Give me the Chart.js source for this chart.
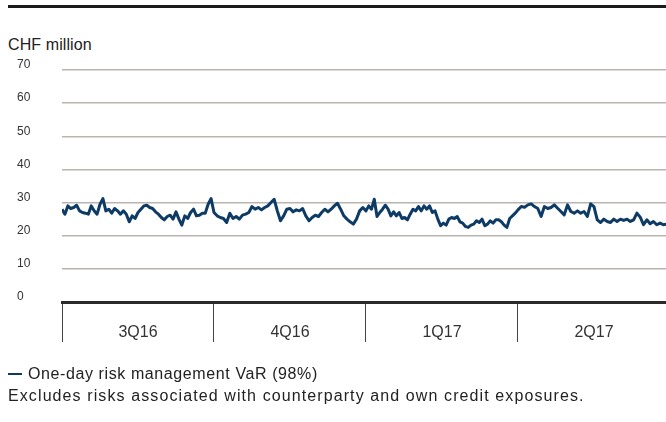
<!DOCTYPE html>
<html><head><meta charset="utf-8">
<script src="https://cdn.jsdelivr.net/npm/chart.js@4.4.0/dist/chart.umd.min.js"></script>
<style>
html,body{margin:0;padding:0;background:#fff;overflow:hidden;}
#wrap{position:relative;width:666px;height:422px;font-family:"Liberation Sans",Arial,sans-serif;color:#222;}
#rule{position:absolute;left:8px;top:5px;width:658px;height:3px;background:#1a1a1a;}
#unit{position:absolute;left:8px;top:36px;font-size:16px;line-height:18px;letter-spacing:0.1px;}
#c{position:absolute;left:0;top:0;}
#legend{position:absolute;left:8px;top:365px;font-size:16px;line-height:18px;letter-spacing:0.6px;}
#legend .sw{display:inline-block;width:14px;height:2px;background:#0d3b66;vertical-align:middle;margin-right:6px;position:relative;top:-1px;}
#note{position:absolute;left:8px;top:387px;font-size:16px;line-height:18px;letter-spacing:1.1px;}
</style></head>
<body>
<div id="wrap">
  <div id="rule"></div>
  <div id="unit">CHF million</div>
  <canvas id="c" width="666" height="422"></canvas>
  <div id="legend"><span class="sw"></span>One-day risk management VaR (98%)</div>
  <div id="note">Excludes risks associated with counterparty and own credit exposures.</div>
</div>
<script>
const quarters = ['3Q16', '4Q16', '1Q17', '2Q17'];
const yTickValues = [0, 10, 20, 30, 40, 50, 60, 70];
const seriesName = 'One-day risk management VaR (98%)';

const var3Q16 = [28.0, 26.5, 29.0, 28.2, 28.5, 29.2, 27.5, 27.0, 26.8, 26.5, 29.0, 27.5, 26.5, 29.5, 31.2, 27.5, 28.0, 26.8, 28.2, 27.5, 26.5, 27.5, 26.5, 24.2, 26.0, 25.2, 27.0, 28.0, 29.0, 29.2, 28.5, 28.2, 27.2, 26.5, 25.5, 24.8, 25.8, 26.2, 25.0, 27.2, 25.0, 23.2, 26.0, 25.2, 27.0, 28.0, 26.0, 26.2, 26.8, 26.8, 29.5, 31.2];
const var4Q16 = [27.0, 26.0, 25.5, 25.2, 24.0, 26.8, 25.2, 25.8, 25.0, 26.2, 26.5, 27.0, 28.8, 28.0, 28.5, 27.8, 28.5, 29.0, 30.0, 31.0, 27.5, 24.5, 26.0, 28.0, 28.2, 27.2, 27.8, 27.5, 28.2, 26.0, 24.5, 25.5, 26.2, 25.8, 27.0, 28.0, 27.2, 28.0, 29.0, 29.8, 28.0, 26.0, 25.0, 24.2, 23.5, 25.0, 27.5, 28.5];
const var1Q17 = [27.5, 29.0, 28.0, 31.0, 25.8, 27.0, 28.0, 29.2, 28.0, 26.0, 27.2, 26.0, 27.0, 25.2, 25.5, 24.8, 26.5, 28.0, 27.5, 28.8, 27.5, 29.0, 28.0, 29.0, 27.0, 27.5, 25.0, 23.0, 23.8, 23.2, 25.0, 25.5, 25.2, 25.8, 24.2, 23.8, 22.8, 22.5, 23.2, 23.5, 24.5, 24.0, 25.0, 23.0, 23.5, 24.5, 23.8, 24.8, 24.8, 24.2, 23.2, 22.5, 25.2, 26.0, 26.8];
const var2Q17 = [27.8, 28.8, 28.6, 29.3, 29.6, 28.8, 28.2, 25.8, 28.8, 28.2, 28.5, 29.3, 28.3, 27.3, 26.3, 29.3, 27.3, 26.8, 27.5, 26.8, 27.3, 25.8, 29.6, 28.8, 24.8, 24.0, 25.0, 24.3, 24.0, 25.0, 24.3, 25.0, 24.6, 25.0, 24.3, 24.8, 26.8, 25.6, 23.3, 24.8, 23.6, 24.3, 23.3, 23.8, 23.3, 23.5];

const quarterSeries = [var3Q16, var4Q16, var1Q17, var2Q17];
const points = [];
quarterSeries.forEach((arr, q) => {
  arr.forEach((v, i) => points.push({ x: q + i / arr.length, y: v }));
});

const FONT = '"Liberation Sans", Arial, sans-serif';

new Chart(document.getElementById('c'), {
  type: 'line',
  data: {
    datasets: [{
      label: seriesName,
      data: points,
      borderColor: '#0d3b66',
      borderWidth: 3,
      borderJoinStyle: 'round',
      pointRadius: 0,
      tension: 0,
      fill: false
    }]
  },
  options: {
    responsive: false,
    animation: false,
    events: [],
    layout: { padding: { left: 17, top: 70, right: 0, bottom: 0 } },
    plugins: { legend: { display: false }, tooltip: { enabled: false } },
    scales: {
      x: {
        type: 'linear',
        min: 0,
        max: 3.974,
        afterBuildTicks: s => { s.ticks = quarters.map((_, i) => ({ value: i })); },
        afterFit: s => { s.height = 120; },
        ticks: {
          autoSkip: false,
          maxRotation: 0,
          callback: v => quarters[v],
          labelOffset: 76,
          padding: -19,
          color: '#333',
          font: { family: FONT, size: 16 }
        },
        grid: {
          drawOnChartArea: false,
          drawTicks: true,
          tickLength: 40,
          tickColor: '#444',
          tickWidth: 1
        },
        border: { display: true, color: '#2a2a2a', width: 3 }
      },
      y: {
        min: 0,
        max: 70,
        afterBuildTicks: s => { s.ticks = yTickValues.map(v => ({ value: v })); },
        afterFit: s => { s.width = 45; },
        ticks: {
          crossAlign: 'far',
          labelOffset: -5,
          padding: 0,
          color: '#333',
          font: { family: FONT, size: 12 }
        },
        grid: {
          drawTicks: false,
          color: ctx => ctx.tick && ctx.tick.value === 0 ? 'rgba(0,0,0,0)' : '#b9b4af',
          lineWidth: 1.5
        },
        border: { display: false }
      }
    }
  }
});
</script>
</body></html>
